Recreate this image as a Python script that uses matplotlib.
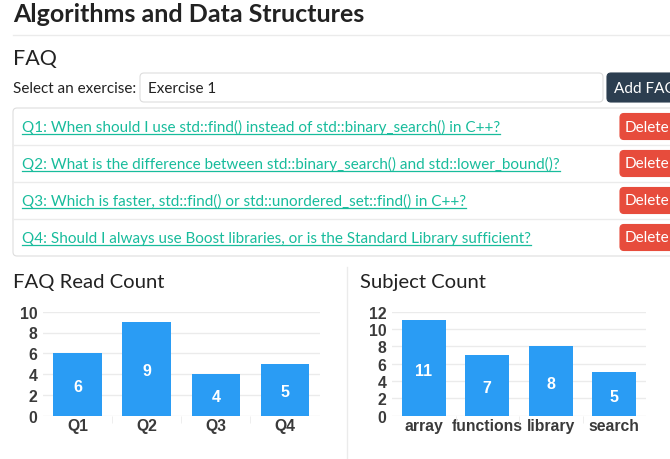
import matplotlib
matplotlib.use('Agg')
import matplotlib.pyplot as plt
from matplotlib.patches import FancyBboxPatch

# datos
pagina_titulo = "Algorithms and Data Structures"
ejercicio = "Exercise 1"
preguntas = [
    "Q1: When should I use std::find() instead of std::binary_search() in C++?",
    "Q2: What is the difference between std::binary_search() and std::lower_bound()?",
    "Q3: Which is faster, std::find() or std::unordered_set::find() in C++?",
    "Q4: Should I always use Boost libraries, or is the Standard Library sufficient?",
]
faq_labels = ["Q1", "Q2", "Q3", "Q4"]
faq_counts = [6, 9, 4, 5]
subject_labels = ["array", "functions", "library", "search"]
subject_counts = [11, 7, 8, 5]

W, H = 670, 460
AZUL = '#2a9cf4'
TEAL = '#18bc9c'
ROJO = '#e74c3c'
NAVY = '#2c3e50'
GRIS = '#ebebeb'
TEXTO = '#222222'
PAGINA = ['Lato', 'DejaVu Sans']
CHART = ['Liberation Sans', 'DejaVu Sans']

fig = plt.figure(figsize=(W / 100, H / 100), dpi=100)
fondo = fig.add_axes([0, 0, 1, 1])
fondo.set_xlim(0, W)
fondo.set_ylim(H, 0)
fondo.axis('off')


def caja(x0, y0, x1, y1, color, borde=None, r=4):
    p = FancyBboxPatch((x0, y0), x1 - x0, y1 - y0,
                       boxstyle=f"round,pad=0,rounding_size={r}",
                       fc=color, ec=borde if borde else color, lw=0.8)
    fondo.add_patch(p)


# cabecera
fondo.text(13, 22, pagina_titulo, fontsize=18, fontweight='bold',
           family=PAGINA, color=TEXTO, va='baseline')
fondo.plot([13, W], [35.5, 35.5], color=GRIS, lw=1)
fondo.text(13, 65, "FAQ", fontsize=15.5, family=PAGINA, color=TEXTO, va='baseline')

# selector
fondo.text(13, 89, "Select an exercise:", fontsize=11, family=PAGINA,
           color=TEXTO, va='center')
caja(140, 74, 603, 103, 'white', '#dddddd')
fondo.text(148, 89, ejercicio, fontsize=11, family=PAGINA, color=TEXTO, va='center')
caja(607, 74, 680, 103, NAVY)
fondo.text(614, 89, "Add FAQ", fontsize=11, family=PAGINA, color='white', va='center')

# lista de preguntas
caja(13, 109, 690, 257, 'white', '#dddddd')
fila = 37
textos = []
for i, q in enumerate(preguntas):
    y0 = 109 + i * fila
    if i > 0:
        fondo.plot([13, W], [y0, y0], color=GRIS, lw=1)
    yc = y0 + fila / 2
    t = fondo.text(22, yc + 5, q, fontsize=11, family=PAGINA, color=TEAL,
                   va='baseline')
    textos.append((t, yc + 5))
    caja(620, yc - 13, 690, yc + 13, ROJO)
    fondo.text(625, yc, "Delete", fontsize=11, family=PAGINA, color='white',
               va='center')

# subrayado de los enlaces
fig.canvas.draw()
ren = fig.canvas.get_renderer()
for t, yb in textos:
    bb = t.get_window_extent(ren)
    fondo.plot([bb.x0, bb.x1], [yb + 2, yb + 2], color=TEAL, lw=0.9)

# titulos de graficos y separador
fondo.text(13, 288, "FAQ Read Count", fontsize=14.6, family=PAGINA, color=TEXTO,
           va='baseline')
fondo.text(360, 288, "Subject Count", fontsize=14.6, family=PAGINA, color=TEXTO,
           va='baseline')
fondo.plot([347, 347], [268, H], color=GRIS, lw=1)


def grafico(x0, x1, etiquetas, valores, ymax):
    top, bottom = 312.7, 416.7
    ax = fig.add_axes([x0 / W, 1 - bottom / H, (x1 - x0) / W, (bottom - top) / H])
    pos = list(range(len(valores)))
    ax.bar(pos, valores, width=0.7, color=AZUL, zorder=3)
    for p, v in zip(pos, valores):
        ax.text(p, v / 2 - ymax * 0.02, str(v), ha='center', va='center',
                color='white', fontsize=11.5, fontweight='bold', family=CHART,
                zorder=4)
    ax.set_xlim(-0.5, len(valores) - 0.5)
    ax.set_ylim(0, ymax)
    ax.set_yticks(range(0, ymax + 1, 2))
    ax.set_xticks(pos)
    ax.set_xticklabels(etiquetas)
    ax.set_xticks([p + 0.5 for p in pos[:-1]], minor=True)
    ax.grid(axis='y', color=GRIS, lw=1, zorder=0)
    for s in ax.spines.values():
        s.set_visible(False)
    ax.tick_params(axis='y', length=0, pad=4, labelcolor='#3a3a3a')
    ax.tick_params(axis='x', which='major', length=0, pad=1.5, labelcolor='#3a3a3a')
    ax.tick_params(axis='x', which='minor', length=5, color=GRIS)
    for lab in ax.get_xticklabels() + ax.get_yticklabels():
        lab.set_fontfamily(CHART)
        lab.set_fontweight('bold')
        lab.set_fontsize(11.3)
    ax.set_facecolor('none')
    return ax


grafico(43, 319.5, faq_labels, faq_counts, 10)
grafico(392, 646, subject_labels, subject_counts, 12)

fig.savefig('out.png', dpi=100)
